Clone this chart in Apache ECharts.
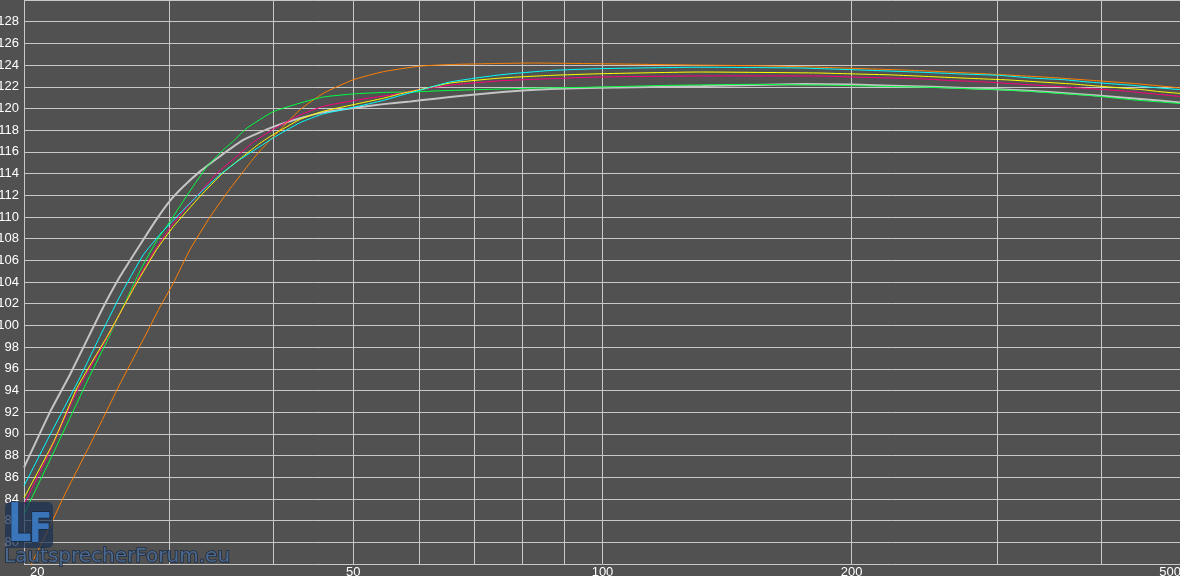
<!DOCTYPE html>
<html>
<head>
<meta charset="utf-8">
<script src="https://cdn.jsdelivr.net/npm/echarts@6/dist/echarts.min.js"></script>
<style>
html,body{margin:0;padding:0;background:#515151;}
#chart{width:1180px;height:576px;}
</style>
</head>
<body>
<div id="chart"></div>
<script>
// Frequency (Hz) / SPL (dB) pairs
const grayCurve = [[20,86.9],[21.5,92.0],[22.74,95.5],[24.71,101.1],[26.12,104.5],[27.87,107.9],[28.93,109.8],[30.03,111.5],[31.16,112.8],[32.64,114.2],[34.51,115.6],[36.82,117.1],[40,118.3],[43.1,119.1],[46,119.64],[50,120.05],[54.4,120.4],[58.6,120.65],[62.8,120.9],[68.2,121.2],[75.7,121.52],[86.5,121.8],[99.3,121.9],[132,122.07],[175,122.25],[200,122.2],[250,122.0],[300,121.78],[350,121.5],[400,121.18],[450,120.85],[500,120.55]];
const orangeCurve = [[20,76.5],[20.45,78.1],[21.5,81.5],[22.4,84.4],[24,88.9],[26.12,94.6],[27.87,98.7],[29.2,101.7],[30.3,103.9],[31.74,107.0],[33.56,110.0],[35.16,112.2],[36.82,114.2],[37.7,115.2],[38.57,116.1],[40.03,117.4],[43.12,119.9],[46,121.4],[50,122.65],[54.4,123.4],[60.1,123.9],[65.5,124.05],[75,124.15],[82,124.19],[100,124.12],[130,124.0],[153,123.94],[180,123.82],[212,123.64],[240,123.5],[289,123.2],[346,122.87],[400,122.53],[441,122.29],[500,121.88]];
const greenCurve = [[20,82.6],[21.5,87.6],[22.74,91.5],[24,95.3],[25.29,98.8],[27.61,105.0],[28.93,107.8],[30.03,109.6],[31.74,112.4],[33.25,114.6],[34.67,116.05],[35.82,117.0],[37.2,118.2],[40,119.7],[43.12,120.5],[46,121.06],[50,121.34],[54.4,121.48],[59,121.52],[64,121.64],[70.6,121.73],[77.4,121.82],[85,121.89],[95.8,121.95],[107,122.04],[120,122.13],[150,122.22],[188,122.15],[216,122.04],[240,121.98],[261,121.89],[281,121.8],[300,121.73],[316,121.64],[332,121.55],[361,121.36],[390,121.18],[417,120.95],[444,120.75],[471,120.6],[500,120.45]];
const magentaCurve = [[20,83.5],[21.5,88.4],[23.2,94.0],[25.4,99.3],[27.61,104.6],[28.93,107.2],[30.3,109.4],[32.33,111.9],[34.19,114.0],[36.16,115.6],[37.86,116.9],[40.03,118.1],[43.12,119.4],[46,120.2],[50,120.72],[54.4,121.15],[57,121.4],[60.3,121.75],[65.5,122.15],[75.2,122.55],[86.5,122.75],[99.3,122.9],[131,123.0],[180,123.0],[200,122.9],[222,122.81],[245,122.72],[261,122.59],[279,122.5],[296,122.4],[323,122.22],[352,122.04],[384,121.85],[400,121.76],[431,121.58],[461,121.36],[500,121.1]];
const yellowCurve = [[20,84.1],[21.7,89.2],[23.2,94.3],[25.17,98.9],[27.36,103.9],[28.93,107.0],[30.3,109.1],[32.64,111.9],[34.83,114.1],[36.82,115.6],[38.57,116.8],[40.03,117.6],[43.12,119.0],[46,119.75],[50,120.35],[54.4,120.95],[57,121.35],[60.3,121.75],[65.5,122.35],[75.2,122.8],[86.5,123.05],[99.3,123.2],[131,123.36],[182,123.27],[202,123.18],[224,123.09],[245,122.96],[279,122.77],[309,122.63],[338,122.44],[369,122.26],[396,122.07],[428,121.86],[450,121.73],[467,121.58],[500,121.38]];
const cyanCurve = [[20,85.2],[21.5,89.9],[23.3,95.0],[24.71,99.0],[26.12,102.7],[27.87,106.5],[29.2,108.4],[30.3,109.7],[32.64,112.2],[34.51,113.9],[36.49,115.3],[38.57,116.5],[40.03,117.3],[43.12,118.7],[46,119.5],[50,120.1],[54.4,120.75],[57,121.2],[60.3,121.7],[65.5,122.45],[75.2,123.1],[86.5,123.5],[99.3,123.67],[131,123.8],[173,123.73],[199,123.58],[239,123.36],[271,123.18],[302,123.05],[331,122.8],[361,122.65],[386,122.44],[400,122.35],[437,122.13],[461,121.95],[500,121.73]];

const gridFreqs = [20,30,40,50,60,70,80,90,100,200,300,400,500];
const labelFreqs = [20,50,100,200,500];
const yMin = 78, yMax = 130, yStep = 2;

const lg = v => Math.log10(v);
const toXY = arr => arr.map(p => [lg(p[0]), p[1]]);

const seriesDefs = [
  {name:'gray', data:grayCurve, color:'#c4c4c4', width:2},
  {name:'orange', data:orangeCurve, color:'#ff8000', width:1},
  {name:'green', data:greenCurve, color:'#00ff40', width:1},
  {name:'magenta', data:magentaCurve, color:'#ff0080', width:1},
  {name:'yellow', data:yellowCurve, color:'#ffff00', width:1},
  {name:'cyan', data:cyanCurve, color:'#00ffff', width:1}
];

const chart = echarts.init(document.getElementById('chart'));
const labelFont = "'Liberation Sans Narrow','Liberation Sans',Arial,sans-serif";
const logoBlue = 'rgba(60,124,196,0.9)';
const logoEdge = 'rgba(18,36,62,0.85)';
chart.setOption({
  backgroundColor:'#515151',
  animation:false,
  grid:{left:24, right:-1, top:0, bottom:12, containLabel:false, outerBoundsMode:'none'},
  xAxis:{
    type:'value',
    min:lg(20), max:lg(500),
    axisLine:{show:false},
    axisTick:{show:false, customValues:gridFreqs.map(lg)},
    splitLine:{show:true, lineStyle:{color:'#c8c8c8', width:1}},
    axisLabel:{
      customValues:labelFreqs.map(lg),
      color:'#ffffff', fontSize:13, fontFamily:labelFont, margin:2,
      alignMinLabel:'left', alignMaxLabel:'right',
      formatter:(v)=>{ const f=Math.round(Math.pow(10,v)); return f===20 ? '{first|20}' : String(f); },
      rich:{first:{padding:[0,0,0,6], color:'#ffffff', fontSize:13, fontFamily:labelFont}}
    }
  },
  yAxis:{
    type:'value', min:yMin, max:yMax, interval:yStep,
    axisLine:{show:false}, axisTick:{show:false},
    splitLine:{show:true, lineStyle:{color:'#c8c8c8', width:1}},
    axisLabel:{color:'#ffffff', fontSize:13, fontFamily:labelFont, margin:5, showMinLabel:false, showMaxLabel:false}
  },
  series: seriesDefs.map(s => ({
    type:'line', name:s.name, data:toXY(s.data), showSymbol:false, smooth:0.15,
    lineStyle:{color:s.color, width:s.width}, itemStyle:{color:s.color}, silent:true
  })),
  graphic:[
    {type:'rect', z:100, shape:{x:5, y:502, width:48, height:46, r:5}, style:{fill:'rgba(26,48,82,0.72)'}},
    {type:'text', z:101, x:8, y:500, scaleX:0.68, style:{text:'L', font:"bold 54px 'DejaVu Sans'", fill:logoBlue, stroke:logoEdge, lineWidth:1.5}},
    {type:'text', z:102, x:29, y:512, scaleX:0.85, style:{text:'F', font:"bold 40px 'DejaVu Sans'", fill:logoBlue, stroke:logoEdge, lineWidth:1.5}},
    {type:'text', z:101, x:4, y:547, style:{text:'LautsprecherForum.eu', font:"20px 'DejaVu Sans'", fill:'rgba(78,108,146,0.95)', stroke:'rgba(28,42,62,0.95)', lineWidth:1.6}}
  ]
});
</script>
</body>
</html>
